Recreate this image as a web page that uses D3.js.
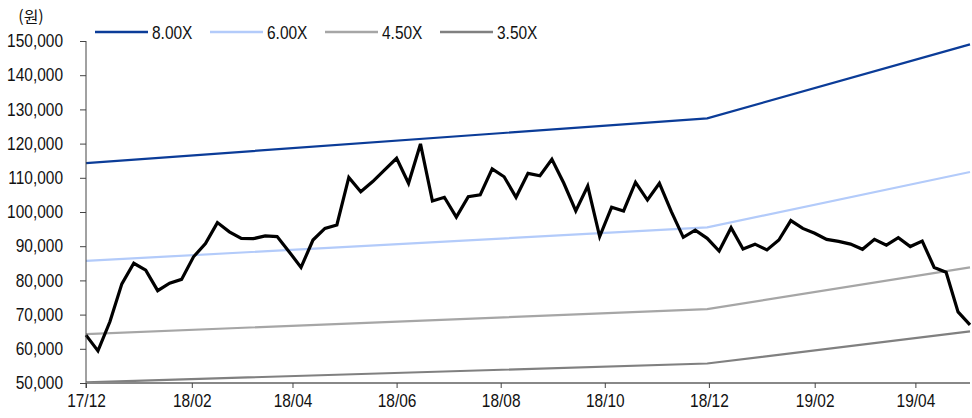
<!DOCTYPE html>
<html lang="ko">
<head>
<meta charset="UTF-8">
<title>PER band</title>
<script src="https://d3js.org/d3.v7.min.js"></script>
<style>
  body { margin: 0; background: #fff; }
  text { font-family: "Liberation Sans", Arial, sans-serif; fill: #111; }
</style>
</head>
<body>
<svg width="972" height="418"></svg>
<script>
// weekly closes (Fridays), 2017-12-01 .. 2019-05-03
var startDate = "2017-12-01";
var price = [64000, 59400, 67900, 79000, 85000, 83000, 77000, 79200, 80300, 86900,
  90800, 96900, 94200, 92300, 92200, 93000, 92800, 88400, 83800, 91800,
  95200, 96200, 110100, 105900, 108900, 112300, 115700, 108400, 119900, 103200,
  104300, 98500, 104500, 105000, 112600, 110300, 104300, 111300, 110600, 115400,
  108400, 100300, 107600, 92800, 101400, 100300, 108700, 103500, 108400, 100100,
  92600, 94700, 92300, 88600, 95400, 89200, 90600, 88900, 91800, 97500,
  95200, 93800, 92000, 91400, 90600, 89100, 92000, 90300, 92500, 89900,
  91500, 83800, 82400, 70800, 67000];

// band lines (knots)
var bandDates = ["2017-12-01", "2018-11-30", "2019-05-03"];
var band800 = [114300, 127400, 149000];
var band600 = [85700, 95500, 111700];
var band450 = [64300, 71600, 83800];
var band350 = [50200, 55700, 65100];

var bandNames = ["8.00X", "6.00X", "4.50X", "3.50X"];
var bandColors = ["#0b3c98", "#b3cbfa", "#a6a6a6", "#808080"];

var yTicks = [50000, 60000, 70000, 80000, 90000, 100000, 110000, 120000, 130000, 140000, 150000];
var xTickDates = ["2017-12-01", "2018-02-01", "2018-04-01", "2018-06-01", "2018-08-01",
  "2018-10-01", "2018-12-01", "2019-02-01", "2019-04-01"];
var xTickLabels = ["17/12", "18/02", "18/04", "18/06", "18/08", "18/10", "18/12", "19/02", "19/04"];

var parse = d3.timeParse("%Y-%m-%d");
var t0 = parse(startDate);
var priceData = price.map(function(v, i) { return { date: d3.timeDay.offset(t0, i * 7), value: v }; });
var bands = [band800, band600, band450, band350].map(function(arr) {
  return arr.map(function(v, i) { return { date: parse(bandDates[i]), value: v }; });
});

var svg = d3.select("svg");
var mLeft = 86, mRight = 970, mTop = 41, mBottom = 383;
var sx = 0.86; // horizontal squeeze to mimic the condensed face

var x = d3.scaleTime().domain([t0, parse("2019-05-03")]).range([mLeft, mRight]);
var y = d3.scaleLinear().domain([50000, 150000]).range([mBottom, mTop]);

var line = d3.line().x(function(d) { return x(d.date); }).y(function(d) { return y(d.value); });

// bands
svg.selectAll(".band").data(bands).enter().append("path")
  .attr("class", "band")
  .attr("d", line)
  .attr("fill", "none")
  .attr("stroke", function(d, i) { return bandColors[i]; })
  .attr("stroke-width", 2.2);

// price
svg.append("path")
  .datum(priceData)
  .attr("d", line)
  .attr("fill", "none")
  .attr("stroke", "#000")
  .attr("stroke-width", 3.2)
  .attr("stroke-linejoin", "miter");

// y axis
var yAxis = svg.append("g")
  .attr("transform", "translate(" + mLeft + ",0)")
  .call(d3.axisLeft(y).tickValues(yTicks).tickSize(6).tickPadding(17).tickFormat(d3.format(",")));
yAxis.select(".domain").attr("stroke", "#444").attr("d", "M0," + mTop + "V" + (mBottom + 5));
yAxis.selectAll(".tick line").attr("stroke", "#444");
yAxis.selectAll("text").attr("font-size", 18).attr("fill", "#111")
  .attr("x", -23 / sx).attr("transform", "scale(" + sx + ",1)");

// x axis
var xAxis = svg.append("g")
  .attr("transform", "translate(0," + mBottom + ")")
  .call(d3.axisBottom(x).tickValues(xTickDates.map(parse)).tickSize(5).tickPadding(6)
    .tickFormat(function(d, i) { return xTickLabels[i]; }));
xAxis.select(".domain").attr("stroke", "#888").attr("stroke-width", 2).attr("d", "M" + mLeft + ",0H" + mRight);
xAxis.selectAll(".tick line").attr("stroke", "#444");
xAxis.selectAll("text").attr("font-size", 18).attr("fill", "#111")
  .attr("transform", "scale(" + sx + ",1)");

// unit
svg.append("text").attr("x", 31).attr("y", 23).attr("text-anchor", "middle")
  .attr("font-size", 16).style("font-family", "'Noto Sans CJK KR', sans-serif").text("(원)");

// legend
var lg = svg.selectAll(".lg").data(bandNames).enter().append("g")
  .attr("transform", function(d, i) { return "translate(" + (95 + i * 115) + ",32)"; });
lg.append("line").attr("x1", 0).attr("x2", 53).attr("y1", 0).attr("y2", 0)
  .attr("stroke", function(d, i) { return bandColors[i]; }).attr("stroke-width", 2.5);
lg.append("text").attr("x", 57 / sx).attr("y", 6.5).attr("font-size", 18)
  .attr("transform", "scale(" + sx + ",1)").text(function(d) { return d; });
</script>
</body>
</html>
